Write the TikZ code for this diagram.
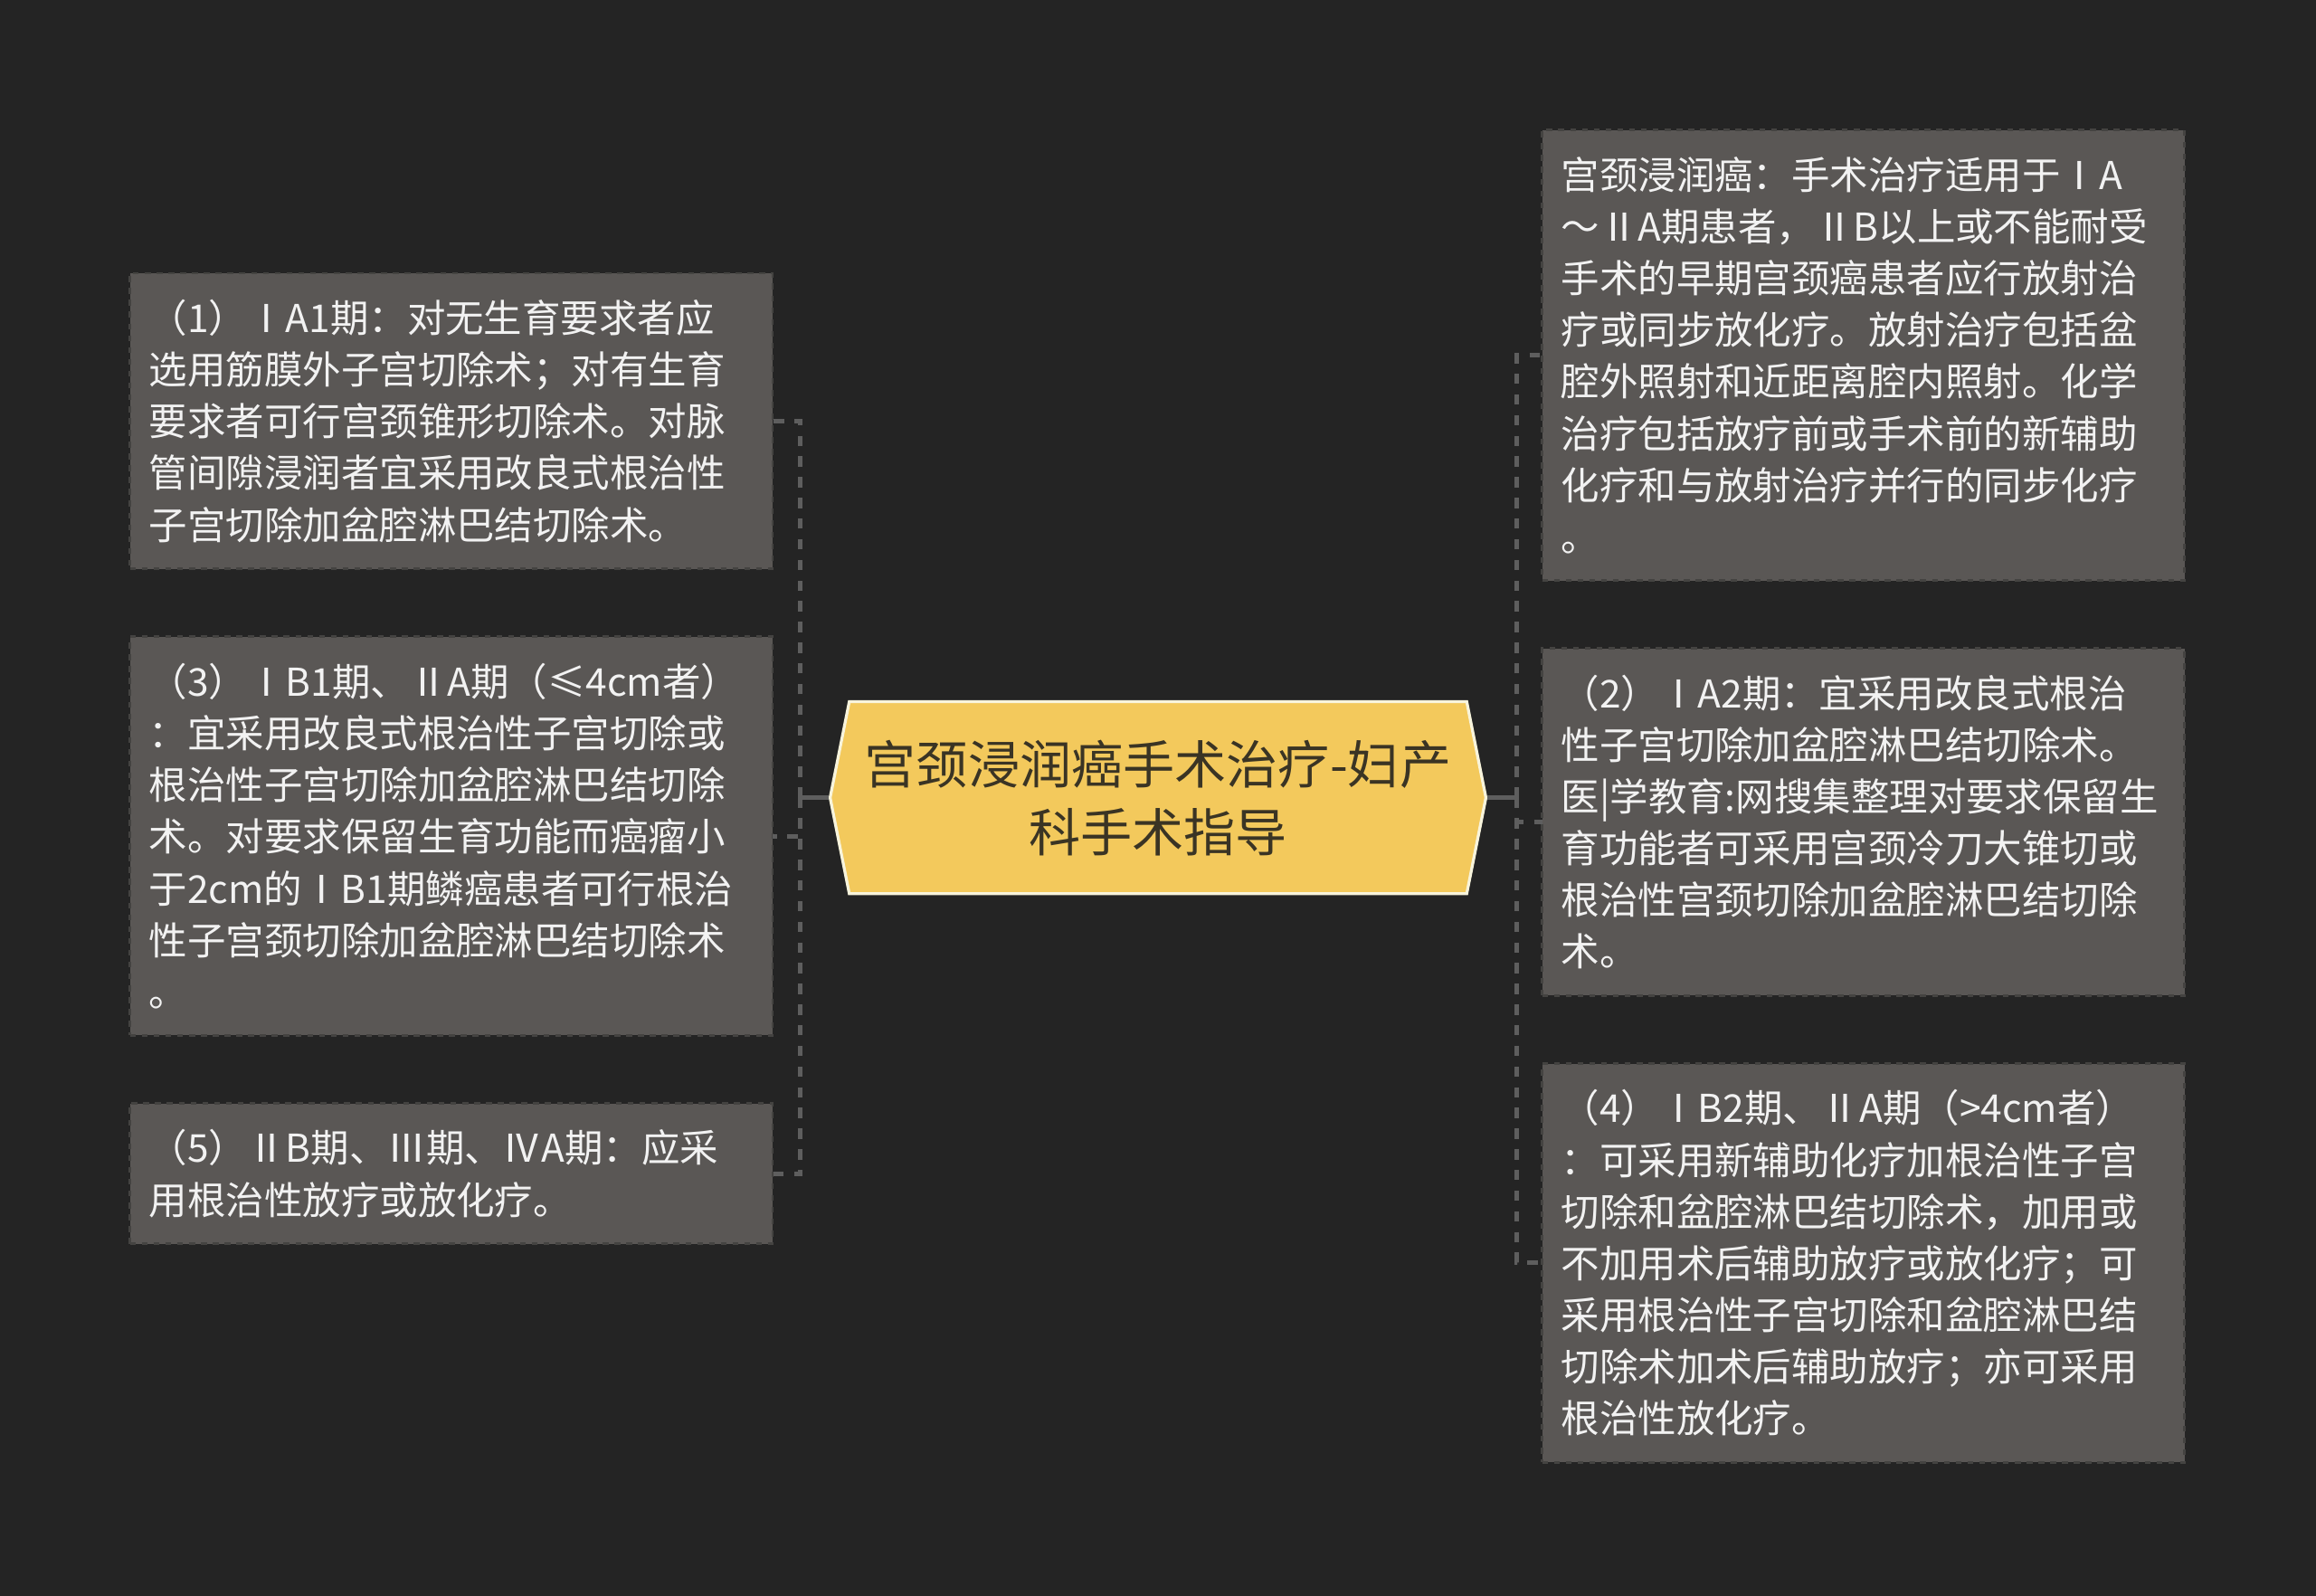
\documentclass[tikz,border=0pt]{standalone}
\usepackage{fontspec}
\setmainfont{Noto Sans CJK SC}
\usetikzlibrary{positioning,shapes.symbols}
\definecolor{bg}{HTML}{242424}
\definecolor{boxgray}{HTML}{5A5755}
\definecolor{linegray}{HTML}{5E5E5E}
\definecolor{gold}{HTML}{F3C95C}
\definecolor{cream}{HTML}{F8F4DC}
\definecolor{inkbrown}{HTML}{3A3424}
\definecolor{paper}{HTML}{F2F2F2}
\tikzset{
	hoved/.style={
		signal,
		signal to=west and east,
		signal pointer angle=157.4,
		fill=gold,
		draw=cream, line width=1pt,
		minimum width=222pt,
		minimum height=65pt,
		inner sep=0pt,
		text=inkbrown,
		align=center,
		font=\fontsize{17.5pt}{23pt}\selectfont},
	punkt/.style={
		rectangle,
		fill=boxgray,
		% border only shows as a ragged edge
		draw=boxgray!60!bg, dash pattern=on 2pt off 2pt, line width=0.8pt,
		text width=204.5pt,
		inner xsep=6.5pt, inner ysep=6pt, outer sep=0pt,
		minimum height=#1*17.5pt+12.5pt,
		align=left,
		text=paper,
		font=\fontsize{13pt}{17.5pt}\selectfont},
	stem/.style={draw=linegray, line width=1.5pt},
	line/.style={draw=linegray, line width=1.5pt, dash pattern=on 3.5pt off 3.5pt},
}

\begin{document}
\begin{tikzpicture}
[x=0.5pt, y=-0.5pt,
node distance=23pt]
\useasboundingbox (0,0) rectangle (1568,1080);
\fill[bg] (-10,-10) rectangle (1578,1090);

\node[hoved] (root) at (784,540) {宫颈浸润癌手术治疗-妇产\\科手术指导};

% left side
\node[punkt=5, anchor=north west] (ia1) at (88,185) {（1）ⅠA1期：对无生育要求者应\\选用筋膜外子宫切除术；对有生育\\要求者可行宫颈锥形切除术。对脉\\管间隙浸润者宜采用改良式根治性\\子宫切除加盆腔淋巴结切除术。};
\node[punkt=7, below=of ia1] (ib1) {（3）ⅠB1期、ⅡA期（≤4cm者）\\：宜采用改良式根治性子宫切除或\\根治性子宫切除加盆腔淋巴结切除\\术。对要求保留生育功能而癌瘤小\\于2cm的ⅠB1期鳞癌患者可行根治\\性子宫颈切除加盆腔淋巴结切除术\\。};
\node[punkt=2, below=of ib1] (iib) {（5）ⅡB期、Ⅲ期、ⅣA期：应采\\用根治性放疗或放化疗。};

% right side
\node[punkt=8, anchor=north west] (cure) at (1044,88) {宫颈浸润癌：手术治疗适用于ⅠA\\～ⅡA期患者，ⅡB以上或不能耐受\\手术的早期宫颈癌患者应行放射治\\疗或同步放化疗。放射治疗包括盆\\腔外照射和近距离腔内照射。化学\\治疗包括放疗前或手术前的新辅助\\化疗和与放射治疗并行的同步化疗\\。};
\node[punkt=6, below=of cure] (ia2) {（2）ⅠA2期：宜采用改良式根治\\性子宫切除加盆腔淋巴结切除术。\\医|学教育:网搜集整理对要求保留生\\育功能者可采用宫颈冷刀大锥切或\\根治性宫颈切除加盆腔淋巴结切除\\术。};
\node[punkt=7, below=of ia2] (ib2) {（4）ⅠB2期、ⅡA期（>4cm者）\\：可采用新辅助化疗加根治性子宫\\切除和盆腔淋巴结切除术，加用或\\不加用术后辅助放疗或放化疗；可\\采用根治性子宫切除和盆腔淋巴结\\切除术加术后辅助放疗；亦可采用\\根治性放化疗。};

\coordinate[left=9.5pt of root.west] (lknot);
\coordinate[right=10pt of root.east] (rknot);
\draw[stem] (root.west) -- (lknot);
\draw[stem] (root.east) -- (rknot);
\foreach \b in {ia1,ib1,iib}
	\draw[line] (lknot) |- (\b.east);
\foreach \b in {cure,ia2,ib2}
	\draw[line] (rknot) |- (\b.west);
\end{tikzpicture}
\end{document}
